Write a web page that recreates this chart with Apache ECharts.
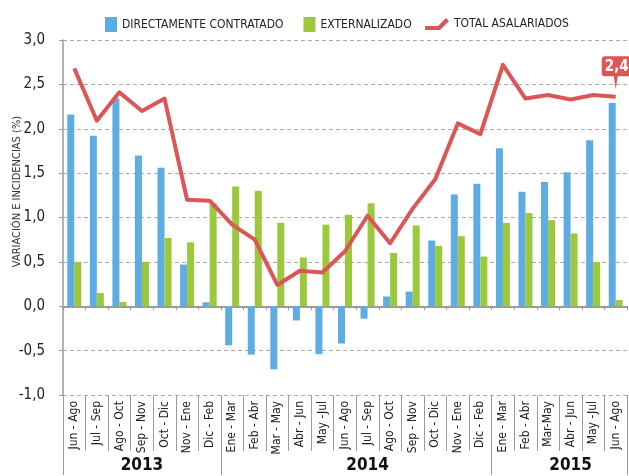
<!DOCTYPE html>
<html>
<head>
<meta charset="utf-8">
<title>Variación e incidencias</title>
<script src="https://cdn.jsdelivr.net/npm/echarts@6/dist/echarts.min.js"></script>
<style>
  html, body { margin: 0; padding: 0; background: #fff; }
  #chart { width: 629px; height: 476px; }
</style>
</head>
<body>
<div id="chart"></div>
<script>
// periodos moviles (trimestres)
var categories = ['Jun - Ago', 'Jul - Sep', 'Ago - Oct', 'Sep - Nov', 'Oct - Dic', 'Nov - Ene', 'Dic - Feb',
  'Ene - Mar', 'Feb - Abr', 'Mar - May', 'Abr - Jun', 'May -Jul', 'Jun - Ago', 'Jul - Sep', 'Ago - Oct',
  'Sep - Nov', 'Oct - Dic', 'Nov - Ene', 'Dic - Feb',
  'Ene - Mar', 'Feb - Abr', 'Mar-May', 'Abr - Jun', 'May -Jul', 'Jun - Ago'];

var years = ['2013', '2014', '2015'];
var yearSpans = [7, 12, 6];

var directos = [2.16, 1.92, 2.34, 1.70, 1.56, 0.47, 0.045, -0.44, -0.545, -0.71, -0.16, -0.54, -0.42,
  -0.14, 0.11, 0.165, 0.74, 1.26, 1.38, 1.78, 1.29, 1.40, 1.51, 1.87, 2.29];
var externos = [0.50, 0.15, 0.05, 0.50, 0.77, 0.72, 1.16, 1.35, 1.30, 0.94, 0.55, 0.92, 1.03,
  1.16, 0.60, 0.91, 0.68, 0.79, 0.56, 0.94, 1.05, 0.97, 0.82, 0.50, 0.07];
var total = [2.68, 2.09, 2.41, 2.20, 2.34, 1.20, 1.19, 0.92, 0.75, 0.24, 0.40, 0.38, 0.62,
  1.02, 0.71, 1.10, 1.43, 2.06, 1.94, 2.72, 2.34, 2.38, 2.33, 2.38, 2.36];

var FONT = "'Liberation Sans Narrow', 'DejaVu Sans Condensed', sans-serif";
var GRIS = '#9a9a9a';

// fila de años: una categoria por periodo, etiqueta en el medio de cada bloque
var yearCats = [];
var yearStart = {};
var yearMid = {};
var pos = 0;
for (var i = 0; i < years.length; i++) {
  yearStart[pos] = true;
  yearMid[pos + Math.floor(yearSpans[i] / 2)] = true;
  for (var j = 0; j < yearSpans[i]; j++) {
    yearCats.push(years[i]);
  }
  pos += yearSpans[i];
}

function coma(v) {
  return v.toFixed(1).replace('.', ',');
}

var chart = echarts.init(document.getElementById('chart'), null, {renderer: 'canvas'});

chart.setOption({
  animation: false,
  textStyle: {fontFamily: FONT},
  legend: [
    {
      data: ['DIRECTAMENTE CONTRATADO', 'EXTERNALIZADO'],
      left: 100,
      top: 12,
      icon: 'rect',
      itemWidth: 12,
      itemHeight: 15,
      itemGap: 20,
      textStyle: {fontFamily: FONT, fontSize: 12, color: '#222'}
    },
    {
      data: ['TOTAL ASALARIADOS'],
      left: 420,
      top: 13,
      icon: 'path://M0,8 L13,8 L21,0 L24,3 L15,12 L0,12 Z',
      itemWidth: 24,
      itemHeight: 12,
      textStyle: {fontFamily: FONT, fontSize: 12, color: '#222'}
    }
  ],
  grid: {
    left: 63,
    right: 2,
    top: 40,
    bottom: 81,
    containLabel: false,
    outerBoundsMode: 'none'
  },
  xAxis: [
    {
      // etiquetas de periodos + separadores
      type: 'category',
      position: 'bottom',
      data: categories,
      axisLine: {show: false, onZero: false},
      axisTick: {show: true, interval: 0, length: 56, lineStyle: {color: GRIS, width: 1}},
      axisLabel: {
        interval: 0,
        rotate: 90,
        margin: 6,
        fontFamily: FONT,
        fontSize: 12,
        color: '#222'
      },
      splitLine: {show: false}
    },
    {
      // linea del cero
      type: 'category',
      position: 'bottom',
      data: categories,
      axisLine: {show: true, onZero: true, lineStyle: {color: GRIS, width: 2}},
      axisTick: {show: true, interval: 0, length: 4, lineStyle: {color: GRIS, width: 1}},
      axisLabel: {show: false},
      splitLine: {show: false}
    },
    {
      // años
      type: 'category',
      position: 'bottom',
      data: yearCats,
      axisLine: {show: false, onZero: false},
      axisTick: {
        show: true,
        length: 80,
        interval: function (index) { return !!yearStart[index]; },
        lineStyle: {color: GRIS, width: 1}
      },
      axisLabel: {
        interval: function (index) { return !!yearMid[index]; },
        margin: 62,
        fontFamily: FONT,
        fontSize: 17,
        fontWeight: 'bold',
        color: '#111'
      },
      splitLine: {show: false}
    }
  ],
  yAxis: {
    type: 'value',
    min: -1,
    max: 3,
    interval: 0.5,
    name: 'VARIACIÓN E INCIDENCIAS (%)',
    nameLocation: 'middle',
    nameGap: 40,
    nameMoveOverlap: false,
    nameTextStyle: {fontFamily: FONT, fontSize: 11, color: '#333', padding: [0, 0, 0, 52]},
    axisLine: {show: true, lineStyle: {color: GRIS, width: 1.5}},
    axisTick: {show: true, length: 4, lineStyle: {color: GRIS}},
    axisLabel: {
      margin: 18,
      fontFamily: FONT,
      fontSize: 15,
      color: '#222',
      formatter: function (v) { return coma(v); }
    },
    splitLine: {show: true, lineStyle: {color: '#aaa', type: [4, 3], width: 1}}
  },
  series: [
    {
      name: 'DIRECTAMENTE CONTRATADO',
      type: 'bar',
      xAxisIndex: 0,
      data: directos,
      barWidth: 7,
      barGap: '0%',
      itemStyle: {color: '#5dade2'}
    },
    {
      name: 'EXTERNALIZADO',
      type: 'bar',
      xAxisIndex: 0,
      data: externos,
      barWidth: 7,
      barGap: '0%',
      itemStyle: {color: '#9cc83b'}
    },
    {
      name: 'TOTAL ASALARIADOS',
      type: 'line',
      xAxisIndex: 0,
      data: total,
      symbol: 'none',
      z: 5,
      itemStyle: {color: '#dd5656'},
      lineStyle: {color: '#dd5656', width: 4, join: 'round'},
      markPoint: {
        symbol: 'path://M3,0 L27,0 Q30,0 30,3 L30,17 Q30,20 27,20 L16,20 L14,33 L12,20 L3,20 Q0,20 0,17 L0,3 Q0,0 3,0 Z',
        symbolSize: [30, 33],
        symbolOffset: [1, -24],
        itemStyle: {color: '#dd5656'},
        label: {
          show: true,
          position: 'inside',
          offset: [0, -6],
          color: '#fff',
          fontFamily: FONT,
          fontWeight: 'bold',
          fontSize: 15,
          formatter: function (p) { return coma(p.value); }
        },
        data: [{coord: [total.length - 1, total[total.length - 1]], value: total[total.length - 1]}]
      }
    }
  ]
});
</script>
</body>
</html>
